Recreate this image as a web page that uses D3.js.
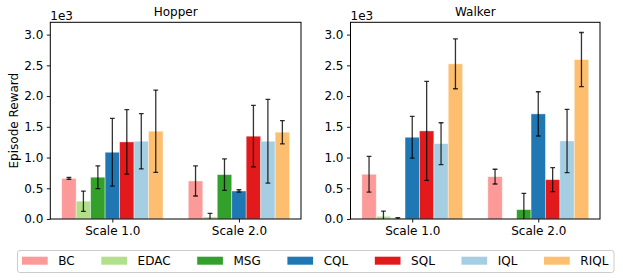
<!DOCTYPE html>
<html>
<head>
<meta charset="utf-8">
<script src="https://cdn.jsdelivr.net/npm/d3@7"></script>
<style>
  html, body { margin: 0; padding: 0; background: #fff; }
  svg { display: block; font-family: "DejaVu Sans", sans-serif; }
</style>
</head>
<body>
<svg id="chart" width="623" height="280"></svg>
<script>
const methods = ["BC", "EDAC", "MSG", "CQL", "SQL", "IQL", "RIQL"];
const colors = ["#fb9a99", "#b2df8a", "#33a02c", "#1f78b4", "#e31a1c", "#a6cee3", "#fdbf6f"];
const groups = ["Scale 1.0", "Scale 2.0"];
const yTicks = [0, 500, 1000, 1500, 2000, 2500, 3000];
const yTickLabels = ["0.0", "0.5", "1.0", "1.5", "2.0", "2.5", "3.0"];

const hopperMean1 = [660, 290, 680, 1086, 1254, 1265, 1428];
const hopperErr1  = [15, 165, 185, 550, 525, 450, 670];
const hopperMean2 = [619, 33, 722, 456, 1347, 1265, 1412];
const hopperErr2  = [245, 58, 255, 20, 500, 680, 190];

const walkerMean1 = [728, 44, 5, 1330, 1433, 1226, 2524];
const walkerErr1  = [290, 85, 15, 340, 805, 340, 405];
const walkerMean2 = [689, 0, 152, 1710, 640, 1270, 2594];
const walkerErr2  = [120, 0, 265, 360, 195, 515, 440];

const panels = [
  { title: "Hopper", means: [hopperMean1, hopperMean2], errs: [hopperErr1, hopperErr2], left: 50.3, right: 301, ylabel: true },
  { title: "Walker", means: [walkerMean1, walkerMean2], errs: [walkerErr1, walkerErr2], left: 350.5, right: 600, ylabel: false }
];

const svg = d3.select("#chart");
const plotTop = 22.3, plotBottom = 219;
const barW = 0.8 / methods.length;

panels.forEach((p, pi) => {
  const x = d3.scaleLinear().domain([-0.49, 1.49]).range([p.left, p.right]);
  const y = d3.scaleLinear().domain([0, 3200]).range([plotBottom, plotTop]);
  const g = svg.append("g");

  const clipId = "clip" + pi;
  svg.append("clipPath").attr("id", clipId).append("rect")
    .attr("x", p.left).attr("y", plotTop).attr("width", p.right - p.left).attr("height", plotBottom - plotTop);

  const data = [];
  groups.forEach((grp, gi) => {
    methods.forEach((m, i) => {
      data.push({ gi, i, mean: p.means[gi][i], err: p.errs[gi][i] });
    });
  });

  const plot = g.append("g").attr("clip-path", `url(#${clipId})`);
  plot.selectAll("rect.bar").data(data).enter().append("rect")
    .attr("class", "bar")
    .attr("x", d => x(d.gi + (d.i - 3) * barW - barW / 2))
    .attr("width", d => x(barW) - x(0))
    .attr("y", d => y(d.mean))
    .attr("height", d => y(0) - y(d.mean))
    .attr("fill", d => colors[d.i])
    .attr("stroke", "#ffffff")
    .attr("stroke-opacity", 0.5)
    .attr("stroke-width", 0.8);

  const eb = plot.selectAll("g.eb").data(data.filter(d => d.err > 0)).enter().append("g")
    .attr("class", "eb")
    .attr("stroke", "#000")
    .attr("stroke-opacity", 0.8)
    .attr("stroke-width", 1.3);
  const cx = d => x(d.gi + (d.i - 3) * barW);
  eb.append("line")
    .attr("x1", cx).attr("x2", cx)
    .attr("y1", d => y(d.mean - d.err)).attr("y2", d => y(d.mean + d.err));
  eb.append("line")
    .attr("x1", d => cx(d) - 2.4).attr("x2", d => cx(d) + 2.4)
    .attr("y1", d => y(d.mean + d.err)).attr("y2", d => y(d.mean + d.err));
  eb.append("line")
    .attr("x1", d => cx(d) - 2.4).attr("x2", d => cx(d) + 2.4)
    .attr("y1", d => y(d.mean - d.err)).attr("y2", d => y(d.mean - d.err));

  // y axis
  const yAxis = d3.axisLeft(y).tickValues(yTicks).tickFormat((d, i) => yTickLabels[i]).tickSize(3.5).tickPadding(3.5);
  const ya = g.append("g").attr("transform", `translate(${p.left},0)`).call(yAxis);
  ya.select(".domain").remove();
  ya.selectAll("text").attr("font-size", 12).attr("font-family", "DejaVu Sans").attr("fill", "#000");
  ya.selectAll("line").attr("stroke", "#000").attr("stroke-width", 0.9);

  // x axis
  const xAxis = d3.axisBottom(x).tickValues([0, 1]).tickFormat((d, i) => groups[i]).tickSize(3.5).tickPadding(3.5);
  const xa = g.append("g").attr("transform", `translate(0,${plotBottom})`).call(xAxis);
  xa.select(".domain").remove();
  xa.selectAll("text").attr("font-size", 12).attr("font-family", "DejaVu Sans").attr("fill", "#000");
  xa.selectAll("line").attr("stroke", "#000").attr("stroke-width", 0.9);

  // frame
  g.append("rect")
    .attr("x", p.left).attr("y", plotTop)
    .attr("width", p.right - p.left).attr("height", plotBottom - plotTop)
    .attr("fill", "none").attr("stroke", "#000").attr("stroke-width", 1);

  // title
  g.append("text")
    .attr("x", (p.left + p.right) / 2).attr("y", 15.5)
    .attr("text-anchor", "middle").attr("font-size", 12).attr("fill", "#000")
    .text(p.title);

  // offset text
  g.append("text")
    .attr("x", p.left).attr("y", 19.8)
    .attr("font-size", 12).attr("fill", "#000")
    .text("1e3");

  if (p.ylabel) {
    g.append("text")
      .attr("transform", `translate(17.5,${(plotTop + plotBottom) / 2}) rotate(-90)`)
      .attr("text-anchor", "middle").attr("font-size", 12).attr("fill", "#000")
      .text("Episode Reward");
  }
});

// legend
const leg = svg.append("g");
const legFrame = leg.append("rect")
  .attr("x", 17.5).attr("y", 250.5).attr("height", 22).attr("rx", 2.5)
  .attr("fill", "#fff").attr("stroke", "#cccccc").attr("stroke-width", 1);
let cursor = 22;
methods.forEach((m, i) => {
  leg.append("rect")
    .attr("x", cursor).attr("y", 256.7).attr("width", 25.7).attr("height", 8)
    .attr("fill", colors[i]);
  const t = leg.append("text")
    .attr("x", cursor + 36.3).attr("y", 265.3)
    .attr("font-size", 12).attr("fill", "#000")
    .text(m);
  const w = t.node().getComputedTextLength();
  cursor = cursor + 36.3 + w + 26.6;
});
legFrame.attr("width", 614 - 17.5);
</script>
</body>
</html>
